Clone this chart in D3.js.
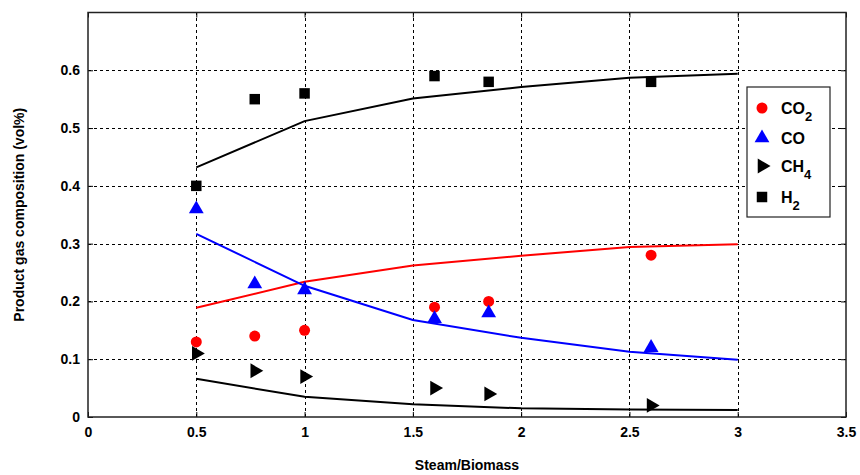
<!DOCTYPE html>
<html lang="en">
<head>
<meta charset="UTF-8">
<title>Product gas composition</title>
<script src="https://cdn.jsdelivr.net/npm/d3@7"></script>
<style>
    body { margin: 0; background: #fff; }
    svg { display: block; }
    .tick-label { font-family: "Liberation Sans", Arial, sans-serif; font-weight: bold; font-size: 14px; fill: #000; }
    .axis-title { font-family: "Liberation Sans", Arial, sans-serif; font-weight: bold; font-size: 14px; fill: #000; }
    .grid line { stroke: #000; stroke-width: 1; stroke-dasharray: 3,3; }
    .model { fill: none; stroke-width: 2px; }
</style>
</head>
<body>
<script>
    /******* DATA *******/
    // experimental points
    const expX = [0.5, 0.77, 1.0, 1.6, 1.85, 2.6];
    const expCO2 = [0.13, 0.14, 0.15, 0.19, 0.20, 0.28];
    const expCO  = [0.36, 0.23, 0.22, 0.17, 0.18, 0.12];
    const expCH4 = [0.11, 0.08, 0.07, 0.05, 0.04, 0.02];
    const expH2  = [0.40, 0.55, 0.56, 0.59, 0.58, 0.58];

    // model curves
    const modelX = [0.5, 1.0, 1.5, 2.0, 2.5, 3.0];
    const modelCO2 = [0.189, 0.234, 0.262, 0.279, 0.294, 0.299];
    const modelCO  = [0.317, 0.227, 0.168, 0.137, 0.113, 0.099];
    const modelCH4 = [0.066, 0.035, 0.022, 0.015, 0.013, 0.012];
    const modelH2  = [0.432, 0.512, 0.551, 0.571, 0.587, 0.594];

    const xTicks = [0, 0.5, 1, 1.5, 2, 2.5, 3, 3.5];
    const yTicks = [0, 0.1, 0.2, 0.3, 0.4, 0.5, 0.6];
    const legendNames = [["CO", "2"], ["CO", ""], ["CH", "4"], ["H", "2"]];

    /******* SVG *******/
    const width = 860, height = 475;
    const svg = d3.select("body").append("svg")
        .attr("width", width).attr("height", height);

    const margins = { top: 12.5, bottom: 58, left: 88, right: 14 };

    const xScale = d3.scaleLinear()
        .domain([0, 3.5])
        .range([margins.left, width - margins.right]);
    const yScale = d3.scaleLinear()
        .domain([0, 0.7])
        .range([height - margins.bottom, margins.top]);

    const x0 = margins.left, x1 = width - margins.right;
    const y0 = height - margins.bottom, y1 = margins.top;

    // Grid
    const grid = svg.append("g").attr("class", "grid");
    grid.selectAll(".gx")
        .data(xTicks.filter(d => d > 0 && d < 3.5))
        .enter().append("line")
        .attr("x1", d => Math.round(xScale(d)) + 0.5)
        .attr("x2", d => Math.round(xScale(d)) + 0.5)
        .attr("y1", y0).attr("y2", y1);
    grid.selectAll(".gy")
        .data(yTicks.filter(d => d > 0))
        .enter().append("line")
        .attr("y1", d => Math.round(yScale(d)) + 0.5)
        .attr("y2", d => Math.round(yScale(d)) + 0.5)
        .attr("x1", x0).attr("x2", x1);

    // Axes (box with inward ticks)
    const xAxisB = d3.axisBottom(xScale).tickValues(xTicks).tickSize(-5).tickFormat(d3.format("")).tickPadding(10);
    const xAxisT = d3.axisTop(xScale).tickValues(xTicks).tickSize(-5).tickFormat("");
    const yAxisL = d3.axisLeft(yScale).tickValues(yTicks).tickSize(-5).tickFormat(d3.format("")).tickPadding(8);
    const yAxisR = d3.axisRight(yScale).tickValues(yTicks).tickSize(-5).tickFormat("");

    function styleAxis(g) {
        g.select(".domain").remove();
        g.selectAll(".tick line").attr("stroke", "#000");
        g.selectAll("text").attr("class", "tick-label");
    }
    svg.append("g").attr("transform", `translate(0,${y0})`).call(xAxisB).call(styleAxis);
    svg.append("g").attr("transform", `translate(0,${y1})`).call(xAxisT).call(styleAxis);
    svg.append("g").attr("transform", `translate(${x0},0)`).call(yAxisL).call(styleAxis);
    svg.append("g").attr("transform", `translate(${x1},0)`).call(yAxisR).call(styleAxis);

    svg.append("rect")
        .attr("x", x0).attr("y", y1)
        .attr("width", x1 - x0).attr("height", y0 - y1)
        .attr("fill", "none").attr("stroke", "#222").attr("stroke-width", 1.5);

    // Model lines
    const lineGen = ys => d3.line()
        .x((d, i) => xScale(modelX[i]))
        .y(d => yScale(d))(ys);

    [[modelH2, "#000"], [modelCO2, "#ff0000"], [modelCO, "#0000ff"], [modelCH4, "#000"]]
        .forEach(([ys, c]) => {
            svg.append("path").attr("class", "model")
                .attr("d", lineGen(ys)).attr("stroke", c);
        });

    // Markers
    const circle = d3.symbol().type(d3.symbolCircle).size(95);
    const tri = d3.symbol().type(d3.symbolTriangle).size(95);
    const square = d3.symbol().type(d3.symbolSquare).size(110);

    function drawMarkers(ys, sym, color, rotate) {
        svg.append("g").selectAll("path")
            .data(ys)
            .enter().append("path")
            .attr("d", sym)
            .attr("fill", color)
            .attr("transform", (d, i) => `translate(${xScale(expX[i])},${yScale(d)})` + (rotate ? ` rotate(${rotate})` : ""));
    }
    drawMarkers(expCO2, circle, "#ff0000");
    drawMarkers(expCO, tri, "#0000ff");
    drawMarkers(expCH4, tri, "#000", 90);
    drawMarkers(expH2, square, "#000");

    // Axis titles
    svg.append("text").attr("class", "axis-title")
        .attr("x", (x0 + x1) / 2).attr("y", 470)
        .attr("text-anchor", "middle")
        .text("Steam/Biomass");
    svg.append("text").attr("class", "axis-title")
        .attr("transform", `translate(24,${(y0 + y1) / 2}) rotate(-90)`)
        .attr("text-anchor", "middle")
        .text("Product gas composition (vol%)");

    // Legend
    const legend = svg.append("g").attr("transform", "translate(747,87)");
    legend.append("rect")
        .attr("width", 83).attr("height", 130)
        .attr("fill", "#fff").attr("stroke", "#222").attr("stroke-width", 1.2);
    const legSyms = [[circle, "#ff0000", 0], [tri, "#0000ff", 0], [tri, "#000", 90], [square, "#000", 0]];
    const legY = [21, 51, 79, 110];
    legSyms.forEach(([sym, c, rot], i) => {
        legend.append("path").attr("d", sym).attr("fill", c)
            .attr("transform", `translate(15,${legY[i]})` + (rot ? ` rotate(${rot})` : ""));
        const t = legend.append("text").attr("class", "axis-title")
            .attr("x", 34).attr("y", legY[i] + 6).style("font-size", "16px");
        t.append("tspan").text(legendNames[i][0]);
        if (legendNames[i][1]) {
            t.append("tspan").attr("dy", 7).style("font-size", "13px").text(legendNames[i][1]);
        }
    });
</script>
</body>
</html>
